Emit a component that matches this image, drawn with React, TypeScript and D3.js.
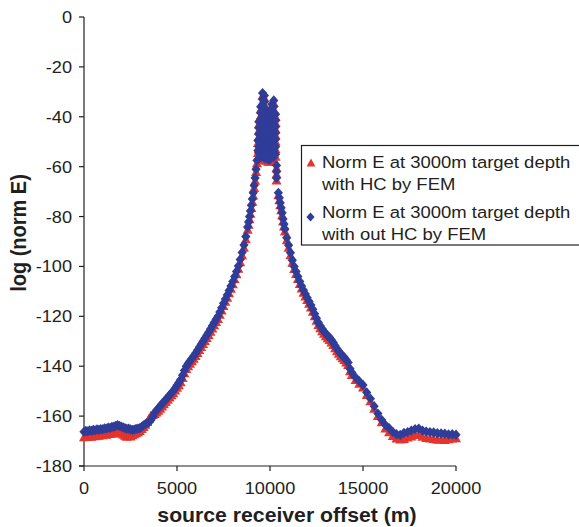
import React from 'react';
import * as d3 from 'd3';

const W = 579;
const H = 527;

const xTicks = [0, 5000, 10000, 15000, 20000];
const yTicks = [0, -20, -40, -60, -80, -100, -120, -140, -160, -180];

// offsets 0..8800 m, every 100 m
const leftOffsets = d3.range(0, 8801, 100);
const leftBlue = [
  -166.3, -165.9, -166.1, -165.7, -165.9, -165.5, -165.7, -165.3, -165.5, -165.2,
  -165.3, -164.9, -165.0, -164.6, -164.7, -164.3, -164.3, -163.9, -163.6, -163.9,
  -164.2, -164.5, -164.8, -165.1, -165.0, -165.3, -165.5, -165.4, -165.1, -165.0,
  -164.8, -164.3, -163.7, -163.2, -162.8, -162.4, -161.6, -160.2, -158.7, -157.7,
  -156.8, -155.9, -155.0, -154.2, -153.3, -152.5, -151.6, -150.7, -149.9, -148.8,
  -147.6, -146.5, -145.3, -143.6, -141.7, -140.0, -138.9, -137.9, -136.9, -135.9,
  -134.8, -133.6, -132.4, -131.2, -130.0, -128.8, -127.6, -126.4, -125.1, -123.8,
  -122.5, -121.2, -120.0, -118.3, -116.6, -114.8, -113.1, -111.4, -109.6, -107.8,
  -106.0, -104.0, -102.0, -99.8, -97.2, -94.4, -91.4, -88.0, -84.2,
];
const leftRed = [
  -168.5, -168.1, -168.4, -168.0, -168.3, -167.9, -168.1, -167.7, -167.9, -167.5,
  -167.7, -167.3, -167.5, -167.1, -167.2, -166.9, -167.0, -166.6, -166.5, -166.7,
  -166.9, -167.4, -167.9, -168.3, -167.9, -168.2, -167.7, -167.3, -166.9, -166.5,
  -166.0, -165.2, -164.4, -163.5, -162.4, -161.0, -159.8, -159.6, -159.2, -158.6,
  -157.9, -157.0, -156.1, -155.2, -154.3, -153.4, -152.5, -151.6, -150.8, -149.7,
  -148.6, -147.6, -146.4, -144.7, -142.8, -141.1, -140.0, -139.0, -138.0, -137.0,
  -135.9, -134.7, -133.5, -132.3, -131.1, -129.9, -128.7, -127.5, -126.2, -124.9,
  -123.6, -122.3, -121.1, -119.4, -117.7, -115.9, -114.2, -112.5, -110.7, -108.9,
  -107.1, -105.1, -103.1, -100.9, -98.3, -95.5, -92.5, -89.1, -85.3,
];

// steep rise just before the source
const steepOffsets = [8850, 8900, 8950, 9000, 9050, 9100, 9150, 9200, 9250, 9300, 9350, 9350];
const steepBlue = [-82.2, -80.0, -77.8, -75.5, -73.0, -70.5, -67.5, -64.5, -61.0, -57.5, -53.5, -49.5];
const steepRed = [-83.3, -81.1, -78.9, -76.6, -74.1, -71.6, -68.6, -65.6, -62.1, -58.6, -54.5, -50.5];

// scattered values around the source, one column every 100 m
const peakOffsets = [9400, 9500, 9600, 9700, 9800, 9900, 10000, 10100, 10200, 10300, 10350];
const peakBlue = [
  [-42, -44.5, -47, -49.5, -52, -54.5],
  [-36, -38.5, -41, -43.5, -46, -48.5, -51, -53.5, -56],
  [-30.5, -33, -35.5, -38, -40.5, -43, -45.5, -48, -50.5, -53, -55.5],
  [-31.5, -34, -36.5, -39, -41.5, -44, -46.5, -49, -51.5, -54, -56.5],
  [-39, -41.5, -44, -46.5, -49, -51.5, -54, -56.5],
  [-40, -42.5, -45, -47.5, -50, -52.5, -55, -57],
  [-37.5, -40, -42.5, -45, -47.5, -50, -52.5, -55, -57],
  [-35, -37.5, -40, -42.5, -45, -47.5, -50, -52.5, -55],
  [-33.5, -36, -38.5, -41, -43.5, -46, -48.5, -51, -53.5, -56],
  [-39, -41.5, -44, -46.5, -49, -52, -55],
  [-59.5, -62, -64.5],
];
const peakRed = [
  [-43, -45.5, -48, -50.5, -53, -55.5],
  [-37, -39.5, -42, -44.5, -47, -49.5, -52, -54.5, -57],
  [-31.5, -34, -36.5, -39, -41.5, -44, -46.5, -49, -51.5, -54, -56.5],
  [-32.5, -35, -37.5, -40, -42.5, -45, -47.5, -50, -52.5, -55, -57.5],
  [-40, -42.5, -45, -47.5, -50, -52.5, -55, -57.5],
  [-41, -43.5, -46, -48.5, -51, -53.5, -56, -58],
  [-38.5, -41, -43.5, -46, -48.5, -51, -53.5, -56, -58],
  [-36, -38.5, -41, -43.5, -46, -48.5, -51, -53.5, -56],
  [-34.5, -37, -39.5, -42, -44.5, -47, -49.5, -52, -54.5, -57],
  [-40, -42.5, -45, -47.5, -50, -53, -56],
  [-60.5, -63, -65.5],
];

const rightOffsets = [
  10450, 10500, 10550, 10600, 10650, 10700, 10750, 10800, 10900, 11000,
  11100, 11200, 11300, 11400, 11500, 11600, 11700, 11800, 11900, 12000,
  12100, 12200, 12300, 12400, 12500, 12600, 12700, 12800, 12900, 13000,
  13100, 13200, 13300, 13400, 13500, 13600, 13700, 13800, 13900, 14000,
  14100, 14200, 14300, 14400,
  14600, 14800, 15000, 15200, 15400, 15600, 15800, 16000, 16200, 16400,
  16600, 16800, 17000, 17200, 17400, 17600, 17800, 18000, 18200, 18400,
  18600, 18800, 19000, 19200, 19400, 19600, 19800, 20000,
];
const rightBlue = [
  -70.5, -72.5, -74.5, -76.5, -78.5, -81, -83, -85, -88.5, -91.5,
  -94.5, -97.5, -100, -102, -104, -106, -107.8, -109.5, -111, -112.5,
  -114, -115.5, -117.2, -119, -120.8, -122.5, -123.8, -125, -126, -127,
  -127.8, -128.5, -129.5, -130.5, -131.8, -133, -134, -135, -135.8, -136.5,
  -137.5, -138.5, -141, -142.5,
  -144.5, -146, -147.5, -150.5, -153, -156, -159, -161.5, -163.5, -164.8,
  -166.3, -167.3, -167.6, -166.8, -166.4, -165.8, -165.2, -165.0, -165.8, -166.2,
  -166.4, -166.6, -166.9, -167.0, -167.1, -167.4, -167.3, -167.5,
];
const rightRed = [
  -71.5, -73.5, -75.5, -77.5, -79.5, -82, -84, -86, -89.5, -92.5,
  -95.5, -98.5, -101, -103, -105, -107, -108.8, -110.5, -112, -113.5,
  -115, -116.5, -118.2, -120, -121.8, -123.5, -124.8, -126, -127, -128,
  -128.8, -129.5, -130.5, -131.5, -132.8, -134, -135, -136, -136.8, -137.5,
  -138.5, -139.5, -142, -143.5,
  -145.5, -147, -148.5, -151.5, -154, -157, -160, -162.5, -165, -166.5,
  -168, -169, -169.4, -169.2, -168.6, -168.2, -167.6, -167.5, -168.3, -168.8,
  -169.0, -169.2, -169.5, -169.4, -169.6, -169.3, -169.0, -168.9,
];

const legendLines = [
  ['Norm E at 3000m target depth', 'with HC by FEM'],
  ['Norm E at 3000m target depth', 'with out HC by FEM'],
];
const xTitle = 'source receiver offset (m)';
const yTitle = 'log (norm E)';

const RED = '#E6342A';
const BLUE = '#2F3D99';
const INK = '#231F20';
const FONT = '"Liberation Sans", Arial, Helvetica, sans-serif';

function buildSeries(leftVals: number[], steepVals: number[], peakVals: number[][], rightVals: number[]) {
  const pts: [number, number][] = [];
  leftOffsets.forEach((o, i) => pts.push([o, leftVals[i]]));
  steepOffsets.forEach((o, i) => pts.push([o, steepVals[i]]));
  peakOffsets.forEach((o, i) => peakVals[i].forEach((v) => pts.push([o, v])));
  rightOffsets.forEach((o, i) => pts.push([o, rightVals[i]]));
  return pts;
}

const TRI = 'M0,-5L5,4L-5,4Z';
const DIA = 'M0,-5.2L4.6,0L0,5.2L-4.6,0Z';
const TRI_L = 'M0,-4.4L4.4,3.4L-4.4,3.4Z';
const DIA_L = 'M0,-4.6L4.1,0L0,4.6L-4.1,0Z';

export default function App() {
  const x = d3.scaleLinear().domain([0, 20000]).range([84, 456]);
  const y = d3.scaleLinear().domain([-180, 0]).range([466, 17]);
  const red = buildSeries(leftRed, steepRed, peakRed, rightRed);
  const blue = buildSeries(leftBlue, steepBlue, peakBlue, rightBlue);
  const SX = 1.1;

  return (
    <svg width={W} height={H} style={{ position: 'absolute', left: 0, top: 0, background: '#fff' }} fontFamily={FONT}>
      <rect x={0} y={0} width={W} height={H} fill="#fff" />
      {/* axes */}
      <line x1={x(0)} x2={x(0)} y1={y(0)} y2={y(-180)} stroke={INK} strokeWidth={1.2} />
      <line x1={x(0) - 5} x2={x(20000)} y1={y(-180)} y2={y(-180)} stroke={INK} strokeWidth={1.2} />
      {yTicks.map((t) => (
        <g key={'y' + t}>
          <line x1={x(0) - 5} x2={x(0)} y1={y(t)} y2={y(t)} stroke={INK} strokeWidth={1.2} />
          <text transform={`translate(72,${y(t)}) scale(${SX},1)`} textAnchor="end" dy="0.36em" fontSize={16.5} fill={INK}>
            {t}
          </text>
        </g>
      ))}
      {xTicks.map((t) => (
        <g key={'x' + t}>
          <line x1={x(t)} x2={x(t)} y1={y(-180)} y2={y(-180) + 5} stroke={INK} strokeWidth={1.2} />
          <text transform={`translate(${x(t)},494) scale(${SX},1)`} textAnchor="middle" fontSize={16.5} fill={INK}>
            {t}
          </text>
        </g>
      ))}
      <text transform={`translate(287,522) scale(${SX},1)`} textAnchor="middle" fontSize={19.3} fontWeight="bold" fill={INK}>
        {xTitle}
      </text>
      <text transform={`translate(26,233) rotate(-90) scale(1,${SX})`} textAnchor="middle" fontSize={20} fontWeight="bold" fill={INK}>
        {yTitle}
      </text>
      {/* series */}
      <g fill={RED}>
        {red.map((p, i) => (
          <path key={'r' + i} d={TRI} transform={`translate(${x(p[0])},${y(p[1])})`} />
        ))}
      </g>
      <g fill={BLUE}>
        {blue.map((p, i) => (
          <path key={'b' + i} d={DIA} transform={`translate(${x(p[0])},${y(p[1])})`} />
        ))}
      </g>
      {/* legend */}
      <rect x={301.5} y={145.5} width={300} height={99.5} fill="#fff" stroke={INK} strokeWidth={1.2} />
      <path d={TRI_L} fill={RED} transform="translate(311,163)" />
      <path d={DIA_L} fill={BLUE} transform="translate(310.5,217)" />
      {legendLines.map((lines, i) =>
        lines.map((s, j) => (
          <text key={'l' + i + j} transform={`translate(322,${168.3 + i * 49.5 + j * 21.7}) scale(${SX},1)`} fontSize={16.8} fill={INK}>
            {s}
          </text>
        ))
      )}
    </svg>
  );
}
